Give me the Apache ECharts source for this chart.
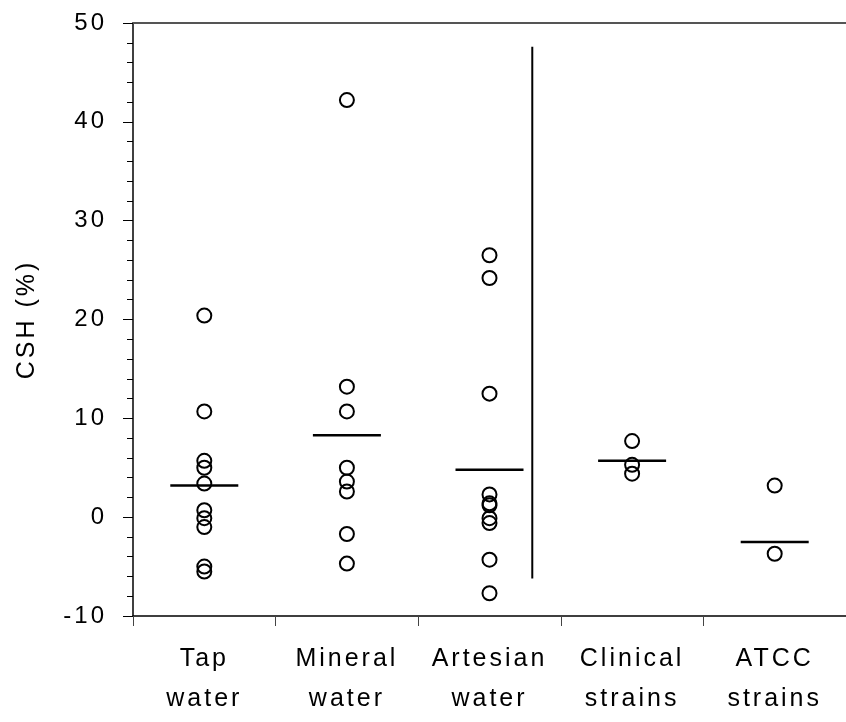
<!DOCTYPE html>
<html>
<head>
<meta charset="utf-8">
<script src="https://cdn.jsdelivr.net/npm/echarts@6/dist/echarts.min.js"></script>
<style>
  html, body { margin: 0; padding: 0; background: #fff; }
  #chart { width: 846px; height: 722px; }
</style>
</head>
<body>
<div id="chart"></div>
<script>
// the original export has wide letter spacing on every text, canvas can do that
const fillText = CanvasRenderingContext2D.prototype.fillText;
const measureText = CanvasRenderingContext2D.prototype.measureText;
CanvasRenderingContext2D.prototype.fillText = function (...args) {
  this.letterSpacing = '3px';
  return fillText.apply(this, args);
};
CanvasRenderingContext2D.prototype.measureText = function (...args) {
  this.letterSpacing = '3px';
  return measureText.apply(this, args);
};

const categories = ['Tap\nwater', 'Mineral\nwater', 'Artesian\nwater', 'Clinical\nstrains', 'ATCC\nstrains'];

const tapWater = [20.4, 10.7, 5.7, 5.0, 3.4, 0.7, -0.1, -1.0, -5.0, -5.5];
const mineralWater = [42.2, 13.2, 10.7, 5.0, 3.6, 2.6, -1.7, -4.7];
const artesianWater = [26.5, 24.2, 12.5, 2.3, 1.4, 1.2, -0.1, -0.6, -4.3, -7.7];
const clinicalStrains = [7.7, 5.3, 4.4];
const atccStrains = [3.2, -3.7];

const means = [3.2, 8.3, 4.8, 5.7, -2.5];

// vertical separator drawn next to the artesian water column: [category, top, bottom]
const separator = [2, 47.6, -6.2];

const groups = [tapWater, mineralWater, artesianWater, clinicalStrains, atccStrains];
const points = groups.flatMap((vals, i) => vals.map(v => [i, v]));
const meanPoints = means.map((v, i) => [i, v]);

const chart = echarts.init(document.getElementById('chart'), null, {renderer: 'canvas'});

chart.setOption({
  animation: false,
  textStyle: {fontFamily: 'Liberation Sans', color: '#000'},
  grid: {left: 133, top: 23, right: -7, bottom: 106},
  xAxis: [{
    type: 'category',
    data: categories,
    boundaryGap: true,
    axisLine: {onZero: false, lineStyle: {color: '#000', width: 1.5}},
    axisTick: {show: true, alignWithLabel: false, length: 10, lineStyle: {color: '#444', width: 1}},
    axisLabel: {
      interval: 0,
      margin: 23,
      fontSize: 25,
      lineHeight: 40,
      color: '#000',
      fontFamily: 'Liberation Sans'
    },
    splitLine: {show: false}
  }, {
    type: 'category',
    position: 'top',
    data: categories,
    axisLine: {onZero: false, lineStyle: {color: '#555', width: 2}},
    axisTick: {show: false},
    axisLabel: {show: false},
    splitLine: {show: false}
  }],
  yAxis: {
    type: 'value',
    min: -10,
    max: 50,
    interval: 10,
    name: 'CSH (%)',
    nameLocation: 'middle',
    nameGap: 92,
    nameTextStyle: {fontSize: 25, color: '#000', fontFamily: 'Liberation Sans'},
    axisLine: {show: true, onZero: false, lineStyle: {color: '#000', width: 1.5}},
    axisTick: {show: true, length: 10, lineStyle: {color: '#000', width: 1}},
    minorTick: {show: true, splitNumber: 5, length: 6, lineStyle: {color: '#000', width: 1}},
    axisLabel: {margin: 26, fontSize: 24, color: '#000', fontFamily: 'Liberation Sans'},
    splitLine: {show: false},
    minorSplitLine: {show: false}
  },
  series: [{
    type: 'scatter',
    data: points,
    symbol: 'circle',
    symbolSize: 14,
    itemStyle: {color: 'transparent', borderColor: '#000', borderWidth: 2, opacity: 1},
    z: 3
  }, {
    type: 'scatter',
    data: meanPoints,
    symbol: 'rect',
    symbolSize: [68, 2.5],
    itemStyle: {color: '#000', opacity: 1},
    z: 2
  }, {
    type: 'custom',
    data: [separator],
    renderItem: (params, api) => {
      const top = api.coord([api.value(0), api.value(1)]);
      const bottom = api.coord([api.value(0), api.value(2)]);
      const dx = api.size([1, 0])[0] * 0.3;
      return {
        type: 'line',
        shape: {x1: top[0] + dx, y1: top[1], x2: bottom[0] + dx, y2: bottom[1]},
        style: {stroke: '#000', lineWidth: 2}
      };
    },
    z: 2
  }]
});
</script>
</body>
</html>
